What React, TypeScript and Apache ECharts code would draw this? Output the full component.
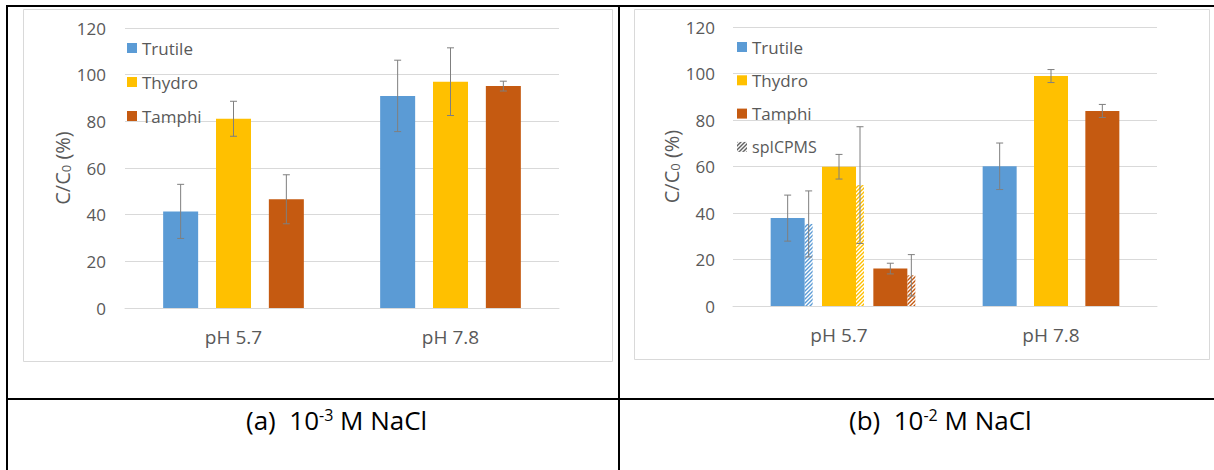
import React, { useEffect, useRef } from "react";
import * as echarts from "echarts";

// ---------- data ----------
const CATEGORIES = ["pH 5.7", "pH 7.8"];
const SERIES_NAMES = ["Trutile", "Thydro", "Tamphi"];
const SP_NAME = "spICPMS";
const Y_MIN = 0;
const Y_MAX = 120;
const Y_INTERVAL = 20;

// (a) 10^-3 M NaCl
const A_TRUTILE = [41.4, 90.9];
const A_TRUTILE_ERR = [11.6, 15.3];
const A_THYDRO = [81.1, 97.0];
const A_THYDRO_ERR = [7.5, 14.5];
const A_TAMPHI = [46.6, 95.1];
const A_TAMPHI_ERR = [10.5, 2.1];

// (b) 10^-2 M NaCl
const B_TRUTILE = [37.8, 60.1];
const B_TRUTILE_ERR = [9.9, 10.0];
const B_THYDRO = [59.9, 98.9];
const B_THYDRO_ERR = [5.3, 2.8];
const B_TAMPHI = [16.1, 83.9];
const B_TAMPHI_ERR = [2.3, 2.8];

// spICPMS (b), pH 5.7 only: Trutile, Thydro, Tamphi
const SP_CATEGORY = 0;
const SP_VALUES = [35.3, 52.0, 13.2];
const SP_ERR = [14.2, 25.1, 8.9];

const CAPTION_A = { label: "(a)  10", exp: "-3", rest: " M NaCl" };
const CAPTION_B = { label: "(b)  10", exp: "-2", rest: " M NaCl" };

// ---------- style ----------
const COLORS = ["#5B9BD5", "#FFC000", "#C55A11"];
const FONT = "'Open Sans', 'Noto Sans', sans-serif";
const TEXT = "#595959";
const GRID_LINE = "#D9D9D9";
const ERR_COLOR = "#7F7F7F";
const BAR_GAP = 0.51;
const BAR_W_A = 35;
const BAR_W_B = 34;
const HATCH_W = 8;
const CAP = 7;

function makeHatch(color: string) {
  const s = 4;
  const c = document.createElement("canvas");
  c.width = s;
  c.height = s;
  const ctx = c.getContext("2d")!;
  ctx.fillStyle = "#ffffff";
  ctx.fillRect(0, 0, s, s);
  ctx.strokeStyle = color;
  ctx.lineWidth = 1.4;
  ctx.beginPath();
  ctx.moveTo(-1, s + 1);
  ctx.lineTo(s + 1, -1);
  ctx.moveTo(-1, 1);
  ctx.lineTo(1, -1);
  ctx.moveTo(s - 1, s + 1);
  ctx.lineTo(s + 1, s - 1);
  ctx.stroke();
  return { image: c, repeat: "repeat", imageWidth: s, imageHeight: s } as any;
}

function errRenderer(barW: number, hatch: boolean) {
  return (_params: any, api: any) => {
    const cat = api.value(0);
    const v = api.value(1);
    const e = api.value(2);
    const k = api.value(3);
    const step = barW * (1 + BAR_GAP);
    const base = api.coord([cat, 0]);
    let x = base[0] + (k - 1) * step;
    if (hatch) x += barW / 2 + HATCH_W / 2;
    const hi = api.coord([cat, v + e])[1];
    const lo = api.coord([cat, v - e])[1];
    const st = { stroke: ERR_COLOR, lineWidth: 1 };
    const c = CAP / 2;
    return {
      type: "group",
      children: [
        { type: "line", shape: { x1: x, y1: hi, x2: x, y2: lo }, style: st },
        { type: "line", shape: { x1: x - c, y1: hi, x2: x + c, y2: hi }, style: st },
        { type: "line", shape: { x1: x - c, y1: lo, x2: x + c, y2: lo }, style: st },
      ],
    };
  };
}

function errData(vals: number[][], errs: number[][]) {
  const out: number[][] = [];
  vals.forEach((arr, k) =>
    arr.forEach((v, cat) => out.push([cat, v, errs[k][cat], k]))
  );
  return out;
}

export default function App() {
  const ref = useRef<HTMLDivElement>(null);

  useEffect(() => {
    document.body.style.margin = "0";
    const chart = echarts.init(ref.current!, undefined, { renderer: "svg" });

    const hatchFills = COLORS.map((c) => makeHatch(c));
    const grayHatch = makeHatch("#595959");

    const aVals = [A_TRUTILE, A_THYDRO, A_TAMPHI];
    const aErrs = [A_TRUTILE_ERR, A_THYDRO_ERR, A_TAMPHI_ERR];
    const bVals = [B_TRUTILE, B_THYDRO, B_TAMPHI];
    const bErrs = [B_TRUTILE_ERR, B_THYDRO_ERR, B_TAMPHI_ERR];

    const yAxisBase = (nameGap: number, margin: number) => ({
      type: "value",
      min: Y_MIN,
      max: Y_MAX,
      interval: Y_INTERVAL,
      axisLine: { show: false },
      axisTick: { show: false },
      splitLine: { lineStyle: { color: GRID_LINE, width: 1 } },
      axisLabel: { color: TEXT, fontSize: 17, fontFamily: FONT, margin },
      name: "{a|C/C}{s|0}{a| (%)}",
      nameLocation: "middle",
      nameGap,
      nameRotate: 90,
      nameTextStyle: {
        color: TEXT,
        fontFamily: FONT,
        fontSize: 20,
        rich: {
          a: { fontSize: 20, color: TEXT, fontFamily: FONT },
          s: {
            fontSize: 13,
            color: TEXT,
            fontFamily: FONT,
            verticalAlign: "bottom",
            padding: [8, 0, 0, 0],
          },
        },
      },
    });

    const xAxisBase = () => ({
      type: "category",
      data: CATEGORIES,
      axisLine: { show: true, lineStyle: { color: GRID_LINE } },
      axisTick: { show: false },
      axisLabel: { color: TEXT, fontSize: 19, fontFamily: FONT, margin: 19 },
    });

    const barSeries = (vals: number[][], axis: number, barW: number) =>
      vals.map((d, k) => ({
        type: "bar",
        name: SERIES_NAMES[k],
        xAxisIndex: axis,
        yAxisIndex: axis,
        data: d,
        barWidth: barW,
        barGap: Math.round(BAR_GAP * 100) + "%",
        itemStyle: { color: COLORS[k] },
        z: 2,
      }));

    const spData = SP_VALUES.map((v, k) => [SP_CATEGORY, v, k]);
    const spErrData = SP_VALUES.map((v, k) => [SP_CATEGORY, v, SP_ERR[k], k]);

    const legendText = { fontSize: 17, color: TEXT, fontFamily: FONT, lineHeight: 17 };

    const caption = (c: any) =>
      `{n|${c.label}}{sup|${c.exp}}{n|${c.rest}}`;
    const captionRich = {
      n: { fontSize: 26, fontFamily: FONT, fill: "#000", color: "#000" },
      sup: { fontSize: 16, fontFamily: FONT, fill: "#000", color: "#000", verticalAlign: "top" },
    };

    const option: any = {
      animation: false,
      backgroundColor: "#ffffff",
      grid: [
        { left: 125, top: 28, width: 434, height: 280, containLabel: false },
        { left: 733, top: 27, width: 424, height: 279, containLabel: false },
      ],
      xAxis: [
        { ...xAxisBase(), gridIndex: 0 },
        { ...xAxisBase(), gridIndex: 1 },
      ],
      yAxis: [
        { ...yAxisBase(52, 19), gridIndex: 0 },
        { ...yAxisBase(50, 18), gridIndex: 1 },
      ],
      legend: [
        {
          data: SERIES_NAMES,
          orient: "vertical",
          left: 127,
          top: 39.5,
          padding: 0,
          itemWidth: 10,
          itemHeight: 10,
          itemGap: 17,
          icon: "rect",
          selectedMode: false,
          textStyle: legendText,
        },
        {
          data: [
            ...SERIES_NAMES,
            {
              name: SP_NAME,
              textStyle: { fontSize: 16, color: TEXT, fontFamily: FONT, lineHeight: 17 },
              itemStyle: { color: grayHatch },
            },
          ],
          orient: "vertical",
          left: 737,
          top: 38.5,
          padding: 0,
          itemWidth: 10,
          itemHeight: 10,
          itemGap: 16.3,
          icon: "rect",
          selectedMode: false,
          textStyle: legendText,
        },
      ],
      series: [
        ...barSeries(aVals, 0, BAR_W_A),
        ...barSeries(bVals, 1, BAR_W_B),
        {
          type: "custom",
          name: SP_NAME,
          xAxisIndex: 1,
          yAxisIndex: 1,
          itemStyle: { color: grayHatch },
          encode: { x: 0, y: 1 },
          data: spData,
          z: 2,
          renderItem: (_p: any, api: any) => {
            const cat = api.value(0);
            const v = api.value(1);
            const k = api.value(2);
            const step = BAR_W_B * (1 + BAR_GAP);
            const base = api.coord([cat, 0]);
            const top = api.coord([cat, v]);
            const x = base[0] + (k - 1) * step + BAR_W_B / 2;
            return {
              type: "rect",
              shape: { x, y: top[1], width: HATCH_W, height: base[1] - top[1] },
              style: { fill: hatchFills[k] },
            };
          },
        },
        {
          type: "custom",
          xAxisIndex: 0,
          yAxisIndex: 0,
          encode: { x: 0, y: 1 },
          data: errData(aVals, aErrs),
          z: 4,
          renderItem: errRenderer(BAR_W_A, false),
        },
        {
          type: "custom",
          xAxisIndex: 1,
          yAxisIndex: 1,
          encode: { x: 0, y: 1 },
          data: errData(bVals, bErrs),
          z: 4,
          renderItem: errRenderer(BAR_W_B, false),
        },
        {
          type: "custom",
          xAxisIndex: 1,
          yAxisIndex: 1,
          encode: { x: 0, y: 1 },
          data: spErrData,
          z: 4,
          renderItem: errRenderer(BAR_W_B, true),
        },
      ],
      graphic: [
        // chart area boxes
        { type: "rect", silent: true, z: -1, shape: { x: 23.5, y: 9.5, width: 589, height: 352 }, style: { fill: "none", stroke: GRID_LINE, lineWidth: 1 } },
        { type: "rect", silent: true, z: -1, shape: { x: 634.5, y: 9.5, width: 575, height: 350 }, style: { fill: "none", stroke: GRID_LINE, lineWidth: 1 } },
        // table lines
        { type: "line", silent: true, shape: { x1: 6, y1: 6, x2: 1214, y2: 6 }, style: { stroke: "#000", lineWidth: 2 } },
        { type: "line", silent: true, shape: { x1: 7, y1: 5, x2: 7, y2: 470 }, style: { stroke: "#000", lineWidth: 2 } },
        { type: "line", silent: true, shape: { x1: 619, y1: 5, x2: 619, y2: 470 }, style: { stroke: "#000", lineWidth: 2 } },
        { type: "line", silent: true, shape: { x1: 6, y1: 399, x2: 1214, y2: 399 }, style: { stroke: "#000", lineWidth: 2 } },
        // captions
        {
          type: "text",
          silent: true,
          x: 246,
          y: 420,
          style: { text: caption(CAPTION_A), rich: captionRich, verticalAlign: "middle", fill: "#000", font: `26px ${FONT}` },
        },
        {
          type: "text",
          silent: true,
          x: 849,
          y: 420,
          style: { text: caption(CAPTION_B), rich: captionRich, verticalAlign: "middle", fill: "#000", font: `26px ${FONT}` },
        },
      ],
    };

    chart.setOption(option);
    return () => chart.dispose();
  }, []);

  return <div ref={ref} style={{ width: 1214, height: 470 }} />;
}
